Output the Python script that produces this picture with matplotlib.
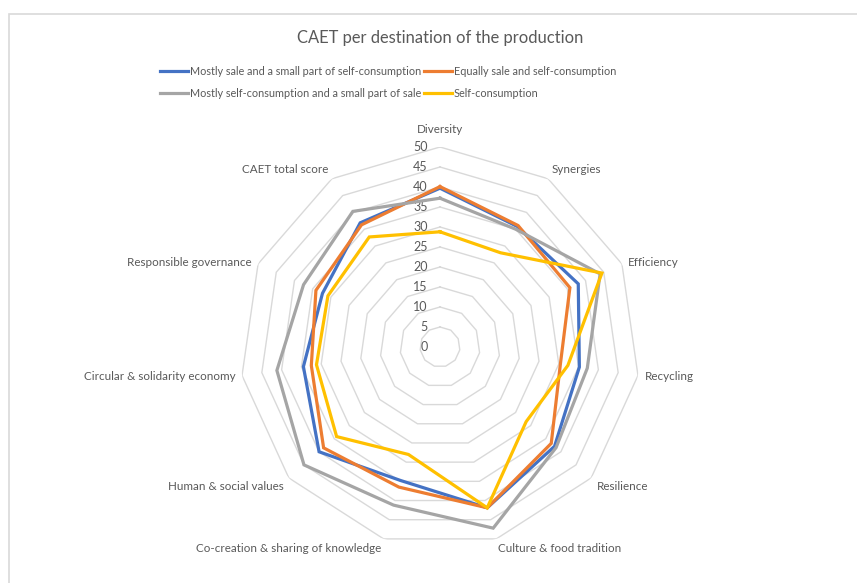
import numpy as np
import matplotlib
matplotlib.use("Agg")
import matplotlib.pyplot as plt
from matplotlib.patches import Rectangle

plt.rcParams["font.family"] = ["Lato", "DejaVu Sans"]

categories = ["Diversity", "Synergies", "Efficiency", "Recycling", "Resilience",
              "Culture & food tradition", "Co-creation & sharing of knowledge",
              "Human & social values", "Circular & solidarity economy",
              "Responsible governance", "CAET total score"]

series_names = ["Mostly sale and a small part of self-consumption",
                "Equally sale and self-consumption",
                "Mostly self-consumption and a small part of sale",
                "Self-consumption"]

mostly_sale      = [39.7, 35.8, 38.0, 35.2, 37.9, 41.9, 34.8, 40.0, 34.5, 32.3, 36.9]
equally          = [40.1, 36.1, 35.7, 30.4, 36.8, 41.9, 36.5, 38.5, 32.5, 34.1, 36.3]
mostly_self      = [37.2, 35.0, 44.0, 37.2, 38.4, 47.2, 41.2, 45.0, 41.2, 37.5, 40.3]
self_consumption = [28.8, 28.0, 44.5, 32.3, 28.5, 41.9, 28.0, 34.2, 31.2, 30.8, 32.7]

series_values = [mostly_sale, equally, mostly_self, self_consumption]
colors = ["#4472C4", "#ED7D31", "#A5A5A5", "#FFC000"]
rings = [5, 10, 15, 20, 25, 30, 35, 40, 45, 50]
tick_labels = [0, 5, 10, 15, 20, 25, 30, 35, 40, 45, 50]

TEXT = "#595959"
GRID = "#D9D9D9"

W, H = 857, 583
fig = plt.figure(figsize=(W / 100, H / 100), dpi=100)

# chart area border (Excel style)
fig.patches.append(Rectangle((8.5 / W, -0.1), 1.2, 1 - 14.5 / H + 0.1,
                             transform=fig.transFigure, fill=False,
                             edgecolor=GRID, lw=1.2))

cx, cy, rad = 440 / W, 1 - 347 / H, 200
ax = fig.add_axes([cx - rad / W, cy - rad / H, 2 * rad / W, 2 * rad / H],
                  projection="polar")
ax.set_theta_zero_location("N")
ax.set_theta_direction(-1)
ax.set_ylim(0, 50)
ax.grid(False)
ax.spines["polar"].set_visible(False)
ax.set_xticks([])
ax.set_yticks([])
ax.patch.set_alpha(0)

n = len(categories)
theta = np.arange(n) * 2 * np.pi / n
theta_closed = np.append(theta, theta[0])

# polygon grid
for r in rings:
    ax.plot(theta_closed, [r] * (n + 1), color=GRID, lw=1, zorder=1)

# value labels along vertical axis
for v in tick_labels:
    ax.annotate(str(v), xy=(0, v), xytext=(-9, 0), textcoords="offset points",
                ha="right", va="center", fontsize=9, color=TEXT)

# category labels
for t, name in zip(theta, categories):
    s, c = np.sin(t), np.cos(t)
    ha = "left" if s > 0.1 else ("right" if s < -0.1 else "center")
    va = "bottom" if c > 0.5 else ("top" if c < -0.5 else "center")
    off = 9 if c > 0.99 else 3
    ax.annotate(name, xy=(t, 50), xytext=(5 * s, off * c), textcoords="offset points",
                ha=ha, va=va, fontsize=8.4, color=TEXT, annotation_clip=False)

for name, vals, col in zip(series_names, series_values, colors):
    ax.plot(theta_closed, vals + vals[:1], color=col, lw=2.3, label=name,
            zorder=3, solid_joinstyle="miter")

fig.text(cx, 1 - 38 / H, "CAET per destination of the production",
         ha="center", va="center", fontsize=11.9, color=TEXT)

handles, labels = ax.get_legend_handles_labels()
order = [0, 2, 1, 3]
leg = fig.legend([handles[i] for i in order], [labels[i] for i in order],
                 ncol=2, loc="center", bbox_to_anchor=(388 / W, 1 - 82.5 / H),
                 frameon=False, fontsize=7.8, handlelength=2.6, handletextpad=0.15,
                 columnspacing=0.25, labelspacing=1.0, borderpad=0)
for txt in leg.get_texts():
    txt.set_color(TEXT)

fig.savefig("out.png", dpi=100)
